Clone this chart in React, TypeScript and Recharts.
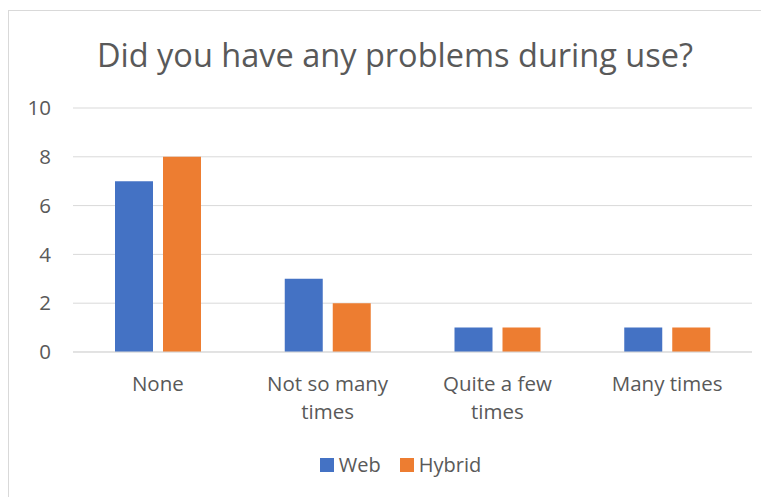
import React from 'react';
import { BarChart, Bar, XAxis, YAxis, CartesianGrid } from 'recharts';

const categories = ['None', 'Not so many times', 'Quite a few times', 'Many times'];
const webValues = [7, 3, 1, 1];
const hybridValues = [8, 2, 1, 1];
const yTicks = [0, 2, 4, 6, 8, 10];

const data = categories.map((name, i) => ({ name, web: webValues[i], hybrid: hybridValues[i] }));

const FONT = '"Open Sans", "Noto Sans", sans-serif';
const TEXT = '#595959';

// greedy word wrap, roughly what Excel does for these labels
const wrap = (s: string, max: number) => {
  const lines: string[] = [];
  let cur = '';
  s.split(' ').forEach((w) => {
    if (cur && (cur + ' ' + w).length > max) {
      lines.push(cur);
      cur = w;
    } else {
      cur = cur ? cur + ' ' + w : w;
    }
  });
  if (cur) lines.push(cur);
  return lines;
};

const CategoryTick = (props: any) => {
  const { x, y, payload } = props;
  const lines = wrap(payload.value, 11);
  return (
    <text x={x} y={y} textAnchor="middle" fill={TEXT} fontSize={20.5} fontFamily={FONT}>
      {lines.map((l, i) => (
        <tspan key={i} x={x} dy={i === 0 ? 31 : 28}>{l}</tspan>
      ))}
    </text>
  );
};

const sq = (c: string) => (
  <span style={{ width: 14, height: 14, background: c, display: 'inline-block', marginRight: 5 }} />
);

const App: React.FC = () => {
  return (
    <div style={{ position: 'relative', width: 761, height: 489, overflow: 'hidden', background: '#fff' }}>
      <div
        style={{
          position: 'absolute', left: 0, top: 2, width: 800, height: 600,
          border: '1px solid #d9d9d9', boxSizing: 'border-box',
        }}
      />
      <div
        style={{
          position: 'absolute', left: 0, top: 24, width: 774, textAlign: 'center',
          fontFamily: FONT, fontSize: 32.5, color: TEXT,
        }}
      >
        Did you have any problems during use?
      </div>
      <BarChart
        width={761}
        height={489}
        data={data}
        margin={{ top: 100, right: 17, bottom: 85, left: 0 }}
        barSize={38}
        barGap={10}
      >
        <CartesianGrid vertical={false} stroke="#d9d9d9" />
        <XAxis
          dataKey="name"
          axisLine={{ stroke: '#d9d9d9' }}
          tickLine={false}
          interval={0}
          height={60}
          tick={<CategoryTick />}
        />
        <YAxis
          width={65}
          domain={[0, 10]}
          ticks={yTicks}
          axisLine={false}
          tickLine={false}
          tickSize={0}
          tickMargin={22}
          tick={{ fill: TEXT, fontSize: 20.5, fontFamily: FONT }}
        />
        <Bar dataKey="web" name="Web" fill="#4472C4" isAnimationActive={false} />
        <Bar dataKey="hybrid" name="Hybrid" fill="#ED7D31" isAnimationActive={false} />
      </BarChart>
      <div
        style={{
          position: 'absolute', left: 0, top: 443, width: 785,
          display: 'flex', justifyContent: 'center', alignItems: 'center',
          fontFamily: FONT, fontSize: 20, color: TEXT,
        }}
      >
        {sq('#4472C4')}
        <span style={{ marginRight: 19 }}>Web</span>
        {sq('#ED7D31')}
        <span>Hybrid</span>
      </div>
    </div>
  );
};

export default App;
